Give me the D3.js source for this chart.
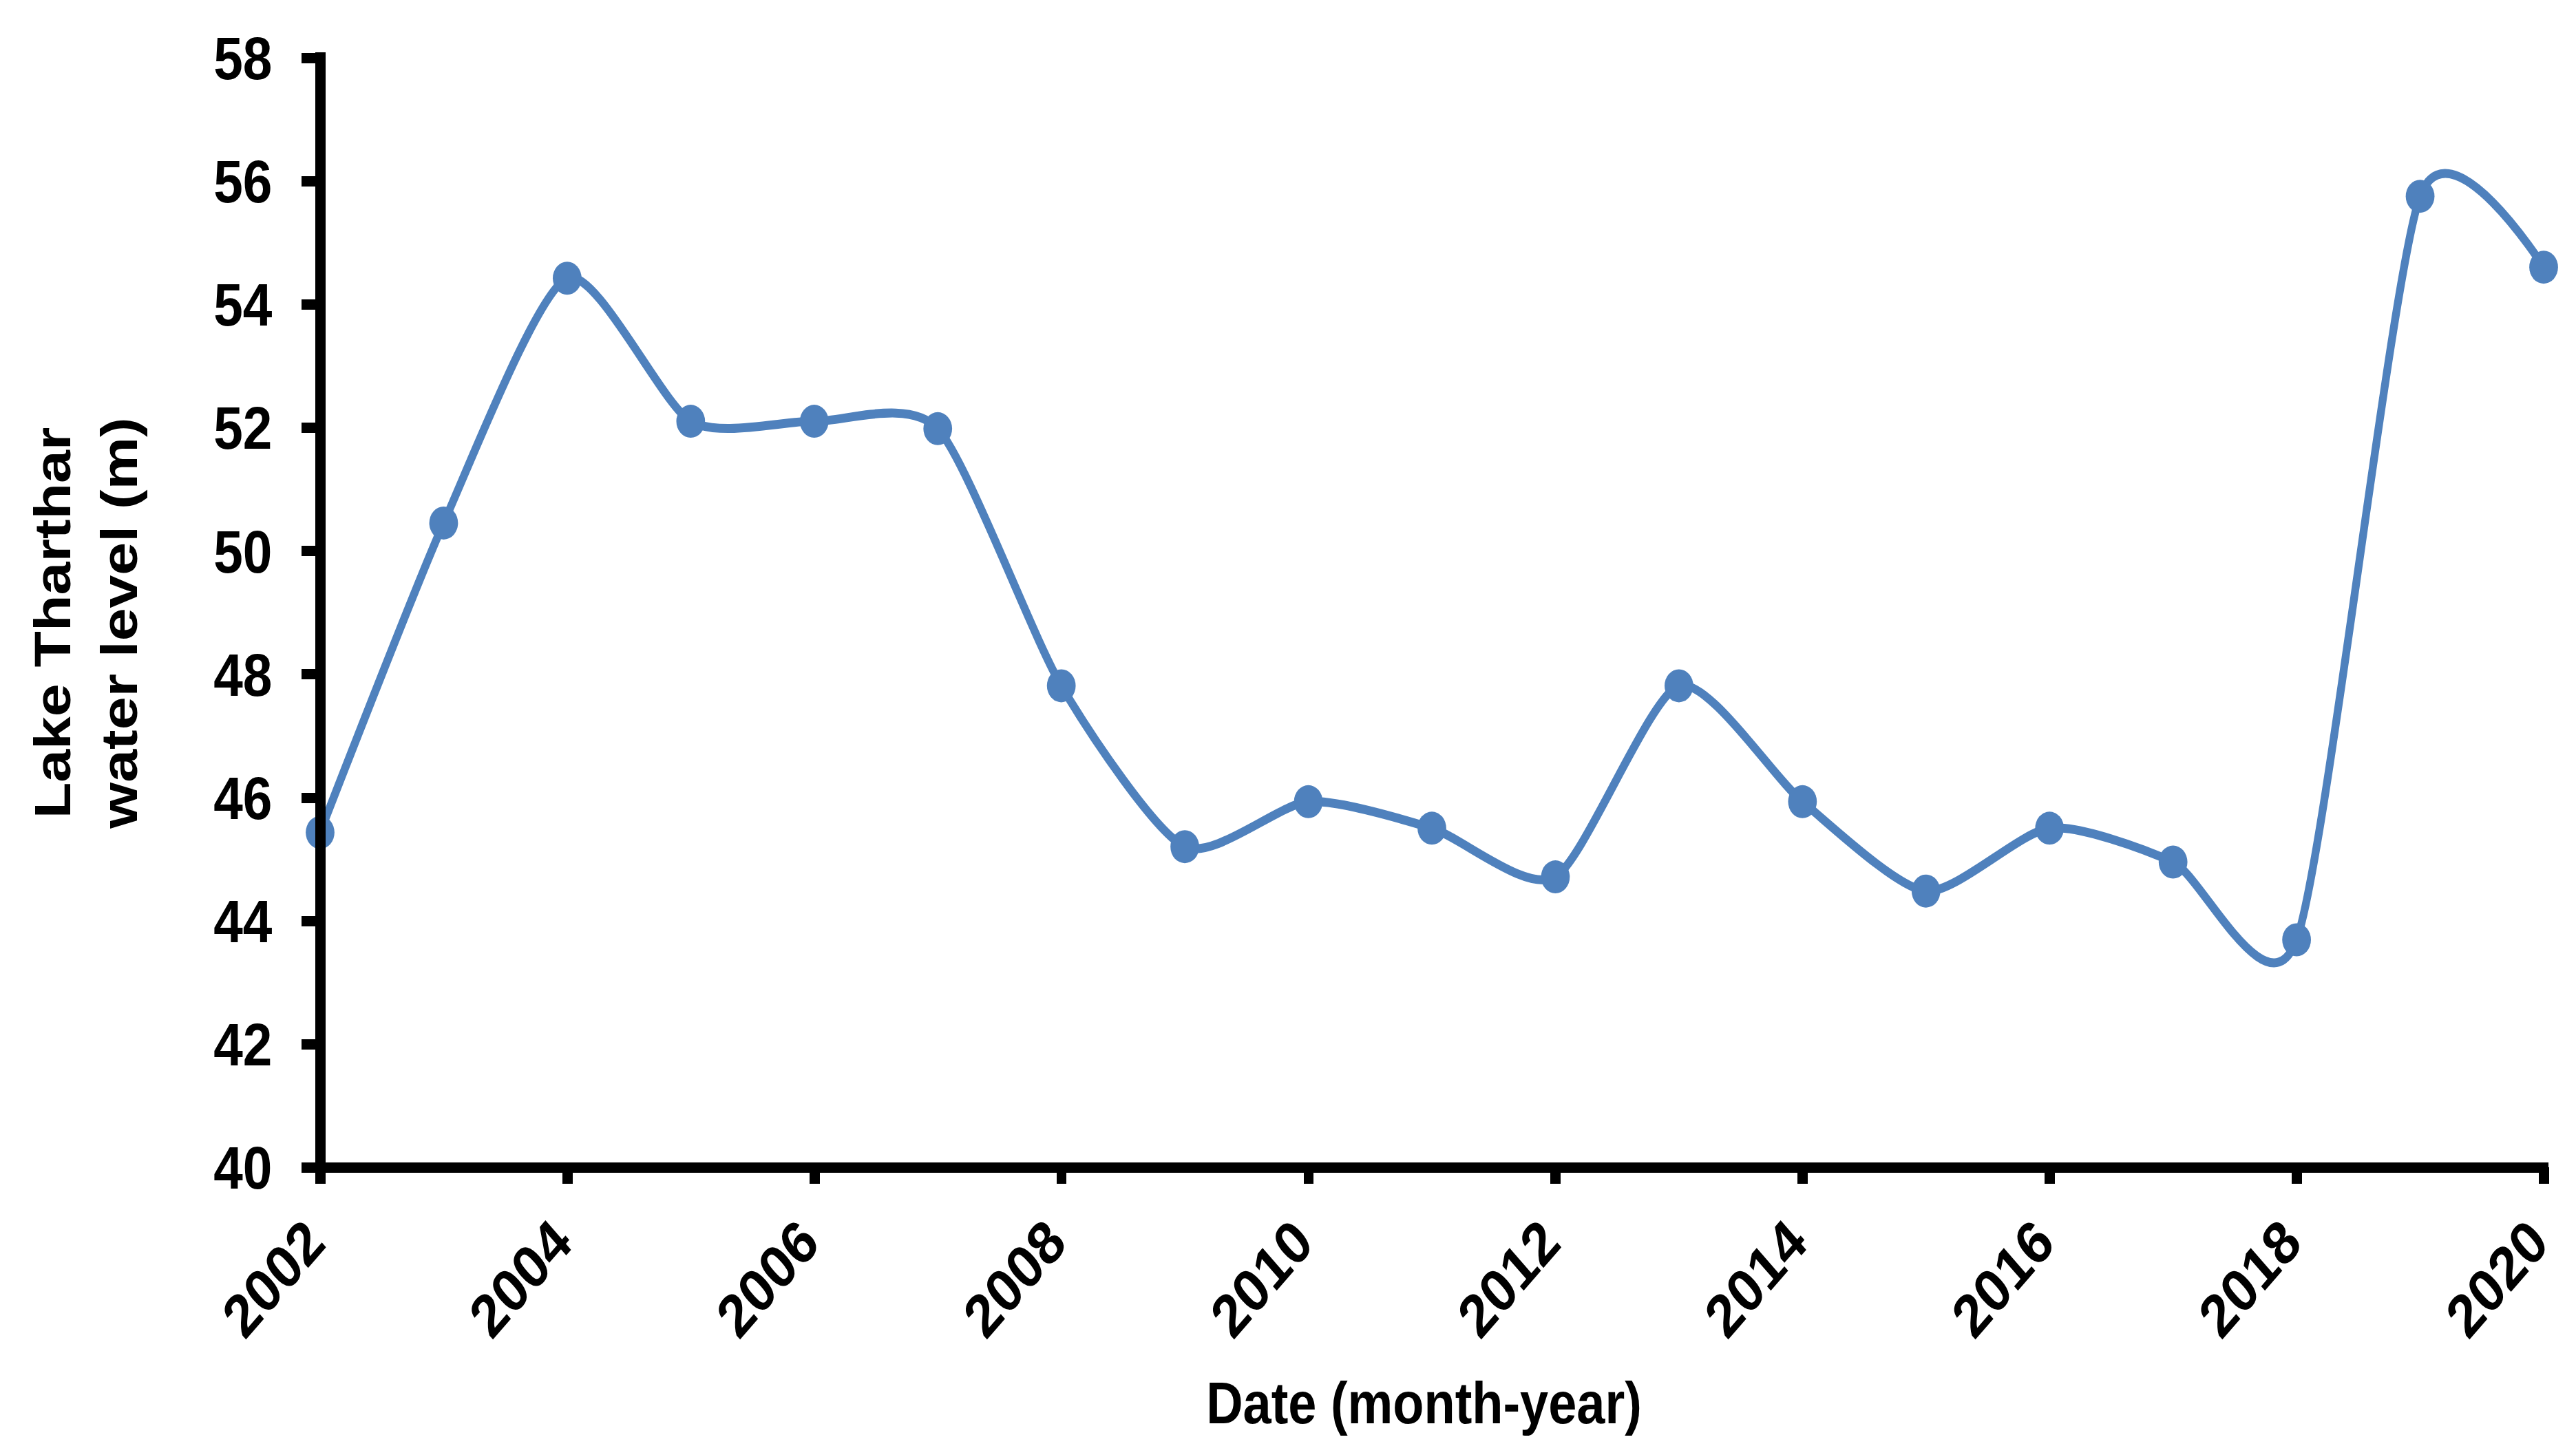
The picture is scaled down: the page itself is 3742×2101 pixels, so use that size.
<!DOCTYPE html>
<html>
<head>
<meta charset="utf-8">
<script src="https://cdn.jsdelivr.net/npm/d3@7"></script>
<style>
  html, body { margin: 0; padding: 0; background: #fff; }
  svg { display: block; }
  text { font-family: "Liberation Sans", Arial, sans-serif; font-weight: bold; fill: #000; }
</style>
</head>
<body>
<script>
// ---- data ----
const years = [2002, 2003, 2004, 2005, 2006, 2007, 2008, 2009, 2010, 2011,
               2012, 2013, 2014, 2015, 2016, 2017, 2018, 2019, 2020];
const waterLevel = [45.43, 50.45, 54.42, 52.1, 52.1, 51.98, 47.81, 45.2, 45.93, 45.5,
                    44.71, 47.81, 45.93, 44.48, 45.5, 44.95, 43.69, 55.75, 54.6];
const xTicks = [2002, 2004, 2006, 2008, 2010, 2012, 2014, 2016, 2018, 2020];
const yTicks = [40, 42, 44, 46, 48, 50, 52, 54, 56, 58];
const xTitle = "Date (month-year)";
const yTitleLines = ["Lake Tharthar", "water level (m)"];

// ---- layout ----
const W = 3742, H = 2101;
const SX = 0.87; // horizontal compression of the whole figure
const svg = d3.select("body").append("svg").attr("width", W).attr("height", H);
svg.append("rect").attr("width", W).attr("height", H).attr("fill", "#fff");
const root = svg.append("g").attr("transform", `scale(${SX},1)`);

const x = d3.scaleLinear().domain([2002, 2020]).range([465 / SX, 3695 / SX]);
const y = d3.scaleLinear().domain([40, 58]).range([1696, 83.6]);

const AXW = 15;
const col = "#4F81BD";

// smoothed line (Excel-like)
const line = d3.line()
  .x((d, i) => x(years[i]))
  .y(d => y(d))
  .curve(d3.curveCardinal.tension(0.3));

root.append("path")
  .datum(waterLevel)
  .attr("d", line)
  .attr("fill", "none")
  .attr("stroke", col)
  .attr("stroke-width", 13)
  .attr("stroke-linejoin", "round");

root.append("g").selectAll("circle")
  .data(waterLevel)
  .join("circle")
  .attr("cx", (d, i) => x(years[i]))
  .attr("cy", d => y(d))
  .attr("r", 24)
  .attr("fill", col);

// y axis
const yAxis = root.append("g")
  .attr("transform", `translate(${x(2002)},0)`)
  .call(d3.axisLeft(y).tickValues(yTicks).tickSize(31).tickSizeOuter(0).tickPadding(0));
yAxis.select(".domain").attr("stroke", "#000").attr("stroke-width", AXW + 2).attr("stroke-linecap", "square");
yAxis.selectAll(".tick line").attr("stroke", "#000").attr("stroke-width", AXW);
yAxis.selectAll(".tick text")
  .attr("x", -80)
  .attr("dy", "0.35em")
  .attr("text-anchor", "end")
  .style("font-size", "88px");

// x axis
const xAxis = root.append("g")
  .attr("transform", `translate(0,${y(40)})`)
  .call(d3.axisBottom(x).tickValues(xTicks).tickFormat(d3.format("d")).tickSize(24).tickSizeOuter(0).tickPadding(0));
xAxis.select(".domain").attr("stroke", "#000").attr("stroke-width", AXW).attr("stroke-linecap", "square");
xAxis.selectAll(".tick line").attr("stroke", "#000").attr("stroke-width", AXW + 2);
xAxis.selectAll(".tick text")
  .attr("y", null)
  .attr("dy", null)
  .attr("text-anchor", "end")
  .attr("transform", "translate(12,114) rotate(-45)")
  .style("font-size", "88px");

svg.selectAll(".domain, .tick line").attr("shape-rendering", "crispEdges");

// titles
root.append("text")
  .attr("x", 2068.5 / SX)
  .attr("y", 2068)
  .attr("text-anchor", "middle")
  .style("font-size", "85px")
  .text(xTitle);

const yt = root.append("g");
yTitleLines.forEach((t, i) => {
  yt.append("text")
    .attr("transform", `translate(${(101.7 + i * 97.5) / SX},905) rotate(-90)`)
    .attr("text-anchor", "middle")
    .style("font-size", "86px")
    .text(t);
});
</script>
</body>
</html>
